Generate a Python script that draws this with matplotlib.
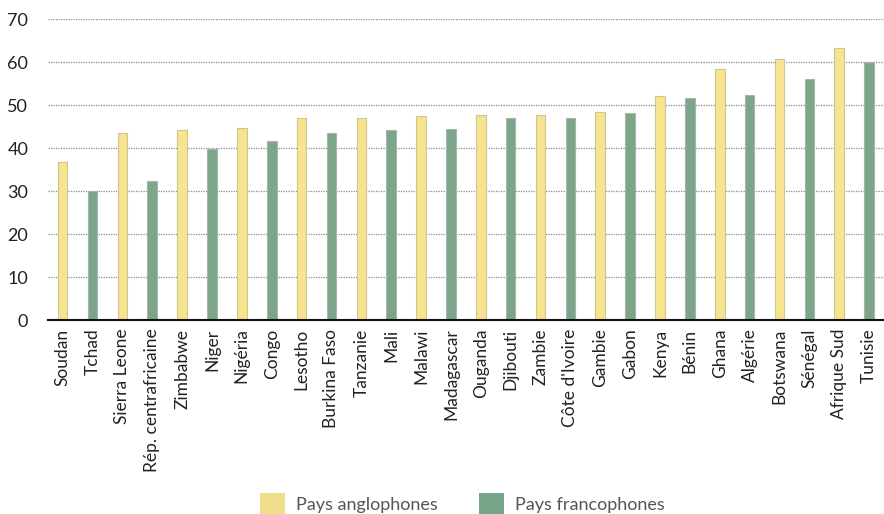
import matplotlib.pyplot as plt
from matplotlib.patches import Patch

countries = ["Soudan", "Tchad", "Sierra Leone", "Rép. centrafricaine", "Zimbabwe",
             "Niger", "Nigéria", "Congo", "Lesotho", "Burkina Faso", "Tanzanie",
             "Mali", "Malawi", "Madagascar", "Ouganda", "Djibouti", "Zambie",
             "Côte d'Ivoire", "Gambie", "Gabon", "Kenya", "Bénin", "Ghana",
             "Algérie", "Botswana", "Sénégal", "Afrique Sud", "Tunisie"]
values = [36.7, 30.0, 43.4, 32.3, 44.3, 39.9, 44.6, 41.6, 46.9, 43.6, 46.9,
          44.3, 47.4, 44.4, 47.6, 47.1, 47.8, 47.1, 48.5, 48.1, 52.0, 51.7,
          58.4, 52.3, 60.8, 56.0, 63.2, 59.9]
# A = anglophone, F = francophone
groups = ["A", "F", "A", "F", "A", "F", "A", "F", "A", "F", "A", "F", "A", "F",
          "A", "F", "A", "F", "A", "F", "A", "F", "A", "F", "A", "F", "A", "F"]
y_ticks = [0, 10, 20, 30, 40, 50, 60, 70]

yellow = "#F6E48F"
green = "#7BA68A"

plt.rcParams['font.family'] = ['Lato', 'DejaVu Sans']

fig = plt.figure(figsize=(8.84, 5.14), dpi=100)
ax = fig.add_axes([0.054, 0.377, 0.946, 0.586])

xs = range(len(countries))
colors = [yellow if g == "A" else green for g in groups]
edges = ["#CFC58F" if g == "A" else "#A9B4AC" for g in groups]
ax.bar(xs, values, width=0.32, color=colors, edgecolor=edges, linewidth=0.8, zorder=3)

ax.set_xlim(-0.5, len(countries) - 0.5)
ax.set_ylim(0, 70)
ax.set_yticks(y_ticks)
ax.yaxis.grid(True, linestyle=(0, (1, 1)), color="#8a8a8a", linewidth=0.9, zorder=0)
ax.set_xticks(list(xs))
ax.set_xticklabels(countries, rotation=90, fontsize=12.5, color="#222222")
ax.tick_params(axis='y', length=0, labelsize=13, pad=14, colors="#222222")
ax.tick_params(axis='x', length=0, pad=6)
for s in ["top", "right", "left"]:
    ax.spines[s].set_visible(False)
ax.spines["bottom"].set_linewidth(1.5)
ax.spines["bottom"].set_color("#111111")
ax.spines["bottom"].set_zorder(4)

handles = [Patch(facecolor="#F0DF8A", label="Pays anglophones"),
           Patch(facecolor="#76A58A", label="Pays francophones")]
fig.legend(handles=handles, loc="center", bbox_to_anchor=(0.523, 0.02),
           ncol=2, frameon=False, fontsize=13, handlelength=1.4, handleheight=1.4,
           columnspacing=2.3, handletextpad=0.6, labelcolor="#555555")

fig.savefig("out.png", dpi=100)
